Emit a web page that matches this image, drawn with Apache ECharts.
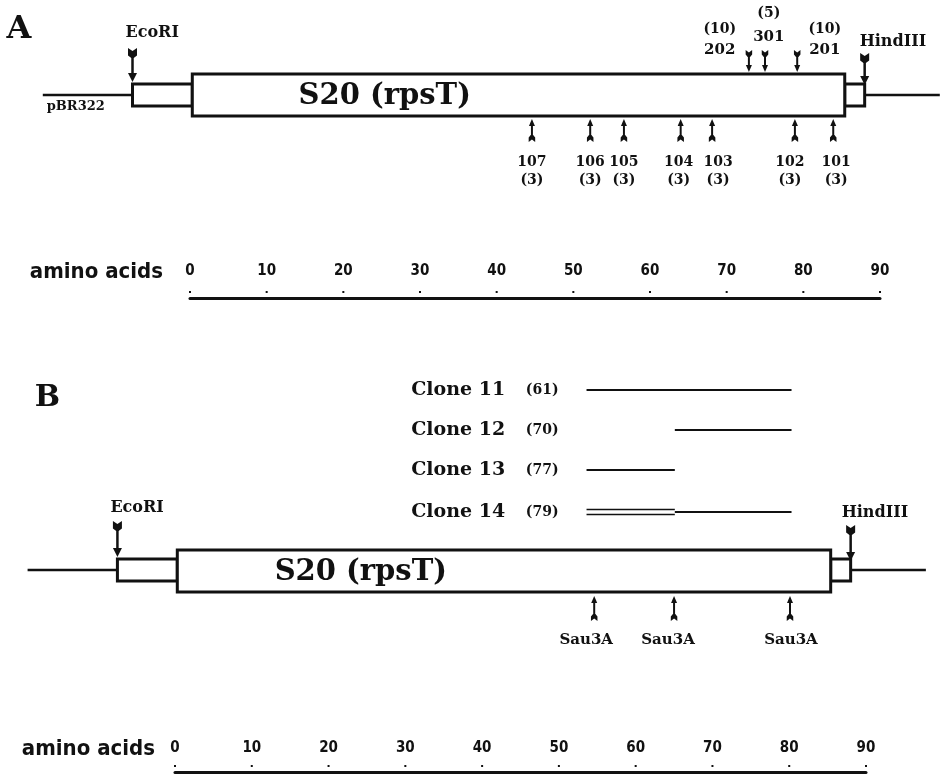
<!DOCTYPE html>
<html>
<head>
<meta charset="utf-8">
<script src="https://cdn.jsdelivr.net/npm/echarts@6/dist/echarts.min.js"></script>
<style>html,body{margin:0;padding:0;background:#fff}#c{width:940px;height:777px}</style>
</head>
<body>
<div id="c"></div>
<script>
// ================= DATA (amino-acid coordinates) =================
const aaTicks = [0, 10, 20, 30, 40, 50, 60, 70, 80, 90];
const vectorEnds = [-19.2, 97.8];
const ecoRISite = -7.5;
const hindIIISite = 88.0;
const geneStart = 0.3;
const geneEnd = 85.4;
const geneName = 'S20 (rpsT)';
const vectorName = 'pBR322';

const mutantsBelow = ['107', '106', '105', '104', '103', '102', '101'];
const mutantsBelowSites = [44.6, 52.2, 56.6, 64.0, 68.1, 78.9, 83.9];
const mutantsBelowCounts = ['(3)', '(3)', '(3)', '(3)', '(3)', '(3)', '(3)'];

const mutantsAbove = ['202', '301', '201'];
const mutantsAboveSites = [72.9, 75.0, 79.2];
const mutantsAboveCounts = ['(10)', '(5)', '(10)'];

const clones = ['Clone 11', 'Clone 12', 'Clone 13', 'Clone 14'];
const cloneCounts = ['(61)', '(70)', '(77)', '(79)'];
const cloneStarts = [53.6, 65.1, 53.6, 53.6];
const cloneEnds = [80.3, 80.3, 65.1, 80.3];
const cloneDoubleEnds = [null, null, null, 65.1];

const sau3ASites = [54.6, 65.0, 80.1];

// ================= LAYOUT / STYLE (y values are page-pixel rows) =================
const INK = '#111';
const SERIF = '"DejaVu Serif", "Liberation Serif", serif';
const AXF = '"DejaVu Sans Condensed", "DejaVu Sans", "Liberation Sans", sans-serif';
const BIG = {fw: 9, fh: 10, notch: 3, hw: 9, hh: 9, lw: 2.5};
const SMALL = {fw: 6.5, fh: 7, notch: 2.5, hw: 6, hh: 7, lw: 2};

const PA = {grid: 0, axisY: 298, vecY: 95, boxTop: 74, boxBot: 116, smallTop: 84, smallBot: 106,
  letter: 'A', letterX: -22.3, letterY: 30, letterSize: 32,
  ecoLabelY: 33, ecoArrow: [48, 82], ecoDx: -7,
  hindLabelY: 42, hindArrow: [53, 85], hindDx: -5,
  geneLabelX: 25.4, geneLabelY: 96, pbrX: -14.9, pbrY: 107, nameGap: 27, labelMargin: 19};
const PB = {grid: 1, axisY: 772, vecY: 570, boxTop: 550, boxBot: 592, smallTop: 559, smallBot: 581,
  letter: 'B', letterX: -16.6, letterY: 398, letterSize: 30,
  ecoLabelY: 508, ecoArrow: [521, 557], ecoDx: -7,
  hindLabelY: 513, hindArrow: [525, 561], hindDx: -9,
  geneLabelX: 24.2, geneLabelY: 572, nameGap: 20, labelMargin: 16};
const aboveLabelDx = [-3.8, 0.5, 3.6];
const aboveLabelRows = [[29, 50], [13, 37], [29, 50]];
const aboveArrowY = [50, 72];
const belowArrowY = [142, 119];
const belowLabelRows = [162, 180];
const belowLabelDx = [0, 0, 0, -2, 6, -5, 3];
const cloneRows = [390, 430, 470, 512];
const cloneNameRight = 43.0, cloneCountLeft = 45.7;
const sauArrowY = [621, 596];
const sauLabelY = 640;
const sauLabelDx = [-8, -6, 1];

// ================= DRAW HELPERS =================
function seg(api, x0, x1, y, w) {
  const a = api.coord([x0, y]), b = api.coord([x1, y]);
  return {type: 'line', shape: {x1: a[0], y1: a[1], x2: b[0], y2: b[1]}, style: {stroke: INK, lineWidth: w}};
}
function box(api, x0, x1, y0, y1) {
  const a = api.coord([x0, y0]), b = api.coord([x1, y1]);
  return {type: 'rect', shape: {x: a[0], y: a[1], width: b[0] - a[0], height: b[1] - a[1]},
    style: {fill: '#fff', stroke: INK, lineWidth: 3}};
}
function arrow(api, x, yTail, yTip, s) {
  const a = api.coord([x, yTail]), b = api.coord([x, yTip]);
  const cx = a[0], t = a[1], tip = b[1], d = tip > t ? 1 : -1;
  const fw = s.fw / 2, hw = s.hw / 2;
  const fl = [[cx - fw, t], [cx, t + d * s.notch], [cx + fw, t], [cx + fw, t + d * (s.fh - 2.5)],
    [cx + 1.2, t + d * s.fh], [cx - 1.2, t + d * s.fh], [cx - fw, t + d * (s.fh - 2.5)]];
  const head = [[cx - hw, tip - d * s.hh], [cx + hw, tip - d * s.hh], [cx, tip]];
  return {type: 'group', children: [
    {type: 'polygon', shape: {points: fl}, style: {fill: INK}},
    {type: 'line', shape: {x1: cx, y1: t + d * (s.fh - 1), x2: cx, y2: tip - d * (s.hh - 1)}, style: {stroke: INK, lineWidth: s.lw}},
    {type: 'polygon', shape: {points: head}, style: {fill: INK}}
  ]};
}
function txt(api, x, y, text, size, align, dx, family) {
  const p = api.coord([x, y]);
  return {type: 'text', x: p[0] + (dx || 0), y: p[1],
    style: {text: text, fill: INK, fontSize: size, fontWeight: 'bold', fontFamily: family || SERIF,
      align: align || 'center', verticalAlign: 'middle', textAlign: align || 'center', textVerticalAlign: 'middle'}};
}
function layer(grid, items) {
  return {type: 'custom', xAxisIndex: grid, yAxisIndex: grid, clip: false, silent: true, animation: false,
    data: items.map(it => [it.x, it.y]), encode: {x: 0, y: 1},
    renderItem: (params, api) => items[params.dataIndex].draw(api)};
}

// ================= BUILD LAYERS =================
function geneLayers(P) {
  const lines = [
    {x: vectorEnds[0], y: P.vecY, draw: api => seg(api, vectorEnds[0], ecoRISite, P.vecY, 2.5)},
    {x: hindIIISite, y: P.vecY, draw: api => seg(api, hindIIISite, vectorEnds[1], P.vecY, 2.5)}
  ];
  const boxes = [
    {x: ecoRISite, y: P.smallTop, draw: api => box(api, ecoRISite, geneStart, P.smallTop, P.smallBot)},
    {x: geneEnd, y: P.smallTop, draw: api => box(api, geneEnd, hindIIISite, P.smallTop, P.smallBot)},
    {x: geneStart, y: P.boxTop, draw: api => box(api, geneStart, geneEnd, P.boxTop, P.boxBot)}
  ];
  const arrows = [
    {x: ecoRISite, y: P.ecoArrow[0], draw: api => arrow(api, ecoRISite, P.ecoArrow[0], P.ecoArrow[1], BIG)},
    {x: hindIIISite, y: P.hindArrow[0], draw: api => arrow(api, hindIIISite, P.hindArrow[0], P.hindArrow[1], BIG)}
  ];
  const texts = [
    {x: ecoRISite, y: P.ecoLabelY, draw: api => txt(api, ecoRISite, P.ecoLabelY, 'EcoRI', 16, 'left', P.ecoDx)},
    {x: hindIIISite, y: P.hindLabelY, draw: api => txt(api, hindIIISite, P.hindLabelY, 'HindIII', 16, 'left', P.hindDx)},
    {x: P.geneLabelX, y: P.geneLabelY, draw: api => txt(api, P.geneLabelX, P.geneLabelY, geneName, 29)},
    {x: P.letterX, y: P.letterY, draw: api => txt(api, P.letterX, P.letterY, P.letter, P.letterSize)}
  ];
  const ticks = aaTicks.map(v => ({x: v, y: P.axisY, draw: api => {
    const p = api.coord([v, P.axisY]);
    return {type: 'rect', shape: {x: p[0] - 1, y: p[1] - 7, width: 2, height: 2}, style: {fill: INK}};
  }}));
  return {lines, boxes, arrows, texts, ticks};
}

const A = geneLayers(PA);
A.texts.push({x: PA.pbrX, y: PA.pbrY, draw: api => txt(api, PA.pbrX, PA.pbrY, vectorName, 13)});
mutantsAbove.forEach((m, i) => {
  const s = mutantsAboveSites[i];
  A.arrows.push({x: s, y: aboveArrowY[0], draw: api => arrow(api, s, aboveArrowY[0], aboveArrowY[1], SMALL)});
  const lx = s + aboveLabelDx[i];
  A.texts.push({x: lx, y: aboveLabelRows[i][0], draw: api => txt(api, lx, aboveLabelRows[i][0], mutantsAboveCounts[i], 14)});
  A.texts.push({x: lx, y: aboveLabelRows[i][1], draw: api => txt(api, lx, aboveLabelRows[i][1], m, 15)});
});
mutantsBelow.forEach((m, i) => {
  const s = mutantsBelowSites[i];
  A.arrows.push({x: s, y: belowArrowY[0], draw: api => arrow(api, s, belowArrowY[0], belowArrowY[1], SMALL)});
  A.texts.push({x: s, y: belowLabelRows[0], draw: api => txt(api, s, belowLabelRows[0], m, 14, 'center', belowLabelDx[i])});
  A.texts.push({x: s, y: belowLabelRows[1], draw: api => txt(api, s, belowLabelRows[1], mutantsBelowCounts[i], 14, 'center', belowLabelDx[i])});
});

const B = geneLayers(PB);
clones.forEach((c, i) => {
  const y = cloneRows[i];
  B.texts.push({x: cloneNameRight, y: y, draw: api => txt(api, cloneNameRight, y, c, 19, 'right')});
  B.texts.push({x: cloneCountLeft, y: y, draw: api => txt(api, cloneCountLeft, y, cloneCounts[i], 14, 'left')});
  const d = cloneDoubleEnds[i];
  if (d !== null) {
    B.lines.push({x: cloneStarts[i], y: y, draw: api => ({type: 'group', children: [
      seg(api, cloneStarts[i], d, y - 2.5, 1.6), seg(api, cloneStarts[i], d, y + 2.5, 1.6)]})});
    B.lines.push({x: d, y: y, draw: api => seg(api, d, cloneEnds[i], y, 2)});
  } else {
    B.lines.push({x: cloneStarts[i], y: y, draw: api => seg(api, cloneStarts[i], cloneEnds[i], y, 2)});
  }
});
sau3ASites.forEach((s, i) => {
  B.arrows.push({x: s, y: sauArrowY[0], draw: api => arrow(api, s, sauArrowY[0], sauArrowY[1], SMALL)});
  B.texts.push({x: s, y: sauLabelY, draw: api => txt(api, s, sauLabelY, 'Sau3A', 15, 'center', sauLabelDx[i])});
});

function axisX(P) {
  return {gridIndex: P.grid, type: 'value', min: 0, max: 90, interval: 10, position: 'bottom',
    axisLine: {show: true, onZero: false, lineStyle: {color: INK, width: 3}},
    axisTick: {show: false}, splitLine: {show: false},
    axisLabel: {inside: true, margin: P.labelMargin, color: INK, fontSize: 15, fontWeight: 'bold', fontFamily: AXF},
    name: 'amino acids', nameLocation: 'start', nameGap: P.nameGap,
    nameTextStyle: {color: INK, fontSize: 22, fontWeight: 'bold', fontFamily: AXF, align: 'right',
      verticalAlign: 'bottom', padding: [0, 0, P.labelMargin - 4, 0]}};
}

const option = {
  backgroundColor: '#fff',
  animation: false,
  grid: [
    {left: 190, right: 60, top: 0, bottom: 777 - PA.axisY},
    {left: 175, right: 74, top: 360, bottom: 777 - PB.axisY}
  ],
  xAxis: [axisX(PA), axisX(PB)],
  yAxis: [
    {gridIndex: 0, type: 'value', min: 0, max: PA.axisY, inverse: true, show: false},
    {gridIndex: 1, type: 'value', min: 360, max: PB.axisY, inverse: true, show: false}
  ],
  series: [
    layer(0, A.lines), layer(0, A.boxes), layer(0, A.arrows), layer(0, A.texts), layer(0, A.ticks),
    layer(1, B.lines), layer(1, B.boxes), layer(1, B.arrows), layer(1, B.texts), layer(1, B.ticks)
  ]
};

const chart = echarts.init(document.getElementById('c'), null, {renderer: 'canvas', width: 940, height: 777});
chart.setOption(option);
</script>
</body>
</html>
